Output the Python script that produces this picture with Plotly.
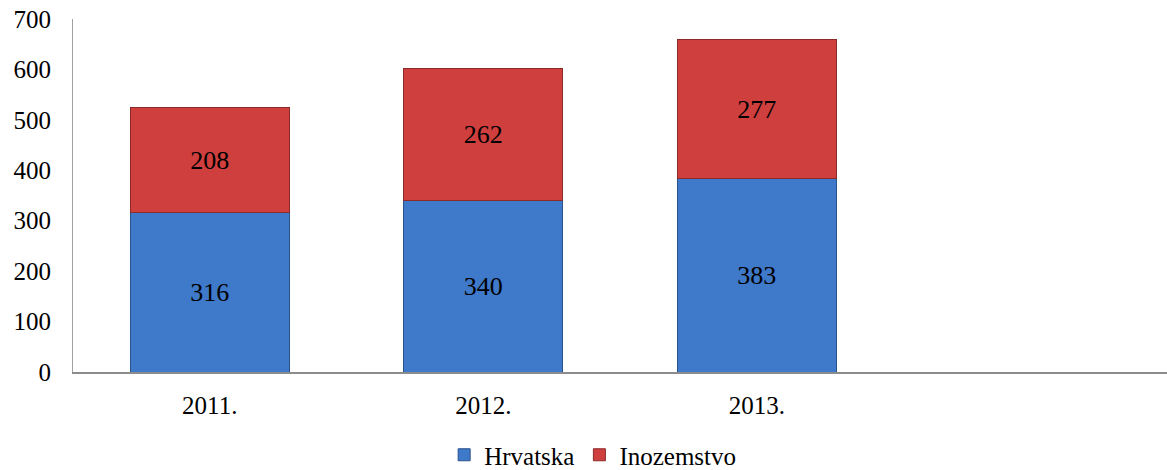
import plotly.graph_objects as go

categories = ["2011.", "2012.", "2013."]
hrvatska = [316, 340, 383]
inozemstvo = [208, 262, 277]
all_categories = categories + [" "]

font_family = "Liberation Serif"

fig = go.Figure()
fig.add_trace(go.Bar(
    name="Hrvatska", x=categories, y=hrvatska,
    text=[str(v) for v in hrvatska], textposition="inside",
    insidetextanchor="middle",
    textfont=dict(family=font_family, size=26, color="black"),
    marker=dict(color="#3f79c9", line=dict(color="#2a528c", width=1)),
    width=0.58,
))
fig.add_trace(go.Bar(
    name="Inozemstvo", x=categories, y=inozemstvo,
    text=[str(v) for v in inozemstvo], textposition="inside",
    insidetextanchor="middle",
    textfont=dict(family=font_family, size=26, color="black"),
    marker=dict(color="#cf3f3e", line=dict(color="#8c2a2a", width=1)),
    width=0.58,
))

fig.update_layout(
    barmode="stack",
    width=1167, height=470,
    margin=dict(l=73, r=0, t=19, b=98, autoexpand=False),
    paper_bgcolor="white", plot_bgcolor="white",
    font=dict(family=font_family, size=25, color="black"),
    showlegend=True,
    legend=dict(orientation="h", x=0.475, xanchor="center",
                yref="container", y=15 / 470, yanchor="middle",
                font=dict(family=font_family, size=25), traceorder="normal",
                itemwidth=30),
)
fig.update_xaxes(
    type="category", categoryorder="array", categoryarray=all_categories,
    range=[-0.5, 3.5], showline=True, linecolor="#8c8c8c", linewidth=2,
    showgrid=False, ticks="", ticklabelstandoff=10, automargin=False,
    tickfont=dict(family=font_family, size=25),
)
fig.update_yaxes(
    range=[0, 700], dtick=100, showline=True, linecolor="#a0a0a0", linewidth=1,
    showgrid=False, ticks="", ticklabelstandoff=16, zeroline=False, automargin=False,
    ticklabeloverflow="allow",
    tickfont=dict(family=font_family, size=25),
)

fig.write_html(
    "out.html",
    config={"displayModeBar": False},
    post_script="document.body.style.margin='0';document.body.style.overflow='hidden';",
)
